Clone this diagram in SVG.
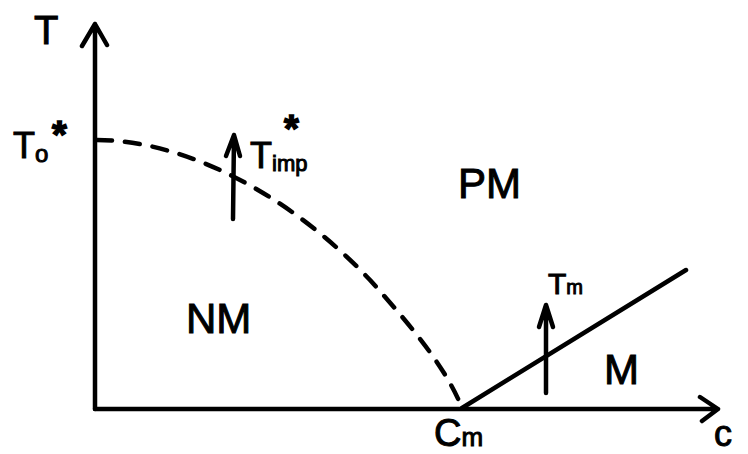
<svg xmlns="http://www.w3.org/2000/svg" width="748" height="454" viewBox="0 0 748 454">
<style>
.ln{fill:none;stroke:#000;stroke-width:4.5;stroke-linecap:round;stroke-linejoin:round}
.t{font-family:"Liberation Sans",Arial,sans-serif;fill:#000;stroke:#000;stroke-width:1}
.st{font-family:"Liberation Sans",Arial,sans-serif;fill:#000;stroke:#000;stroke-width:1.5;font-weight:bold}
</style>
<rect width="748" height="454" fill="#fff"/>
<g id="connectors">
<path class="ln" d="M95,409 L95,24 M82,46 L95,24 L107,45"/>
<path class="ln" d="M95,409 L718,409 M700,397 L718,409 L702,421"/>
<path class="ln" d="M97,140 C185,140 290,195 370,280 C415,330 447,370 462,408" stroke-dasharray="15,13" stroke-width="5"/>
<path class="ln" d="M462,408 L686,270"/>
<path class="ln" d="M233,219 L234,135 M226,156 L234,135 L240,156"/>
<path class="ln" d="M546,393 L546,305 M539,327 L546,305 L553,327"/>
</g>
<g id="labels">
<text class="t" x="34" y="44" font-size="40">T</text>
<text class="t" x="13" y="158" font-size="36">T<tspan font-size="24" dy="4">o</tspan></text>
<text class="st" x="52" y="148" font-size="38">*</text>
<text class="t" x="250" y="168" font-size="36">T<tspan font-size="22" dy="3">imp</tspan></text>
<text class="st" x="284" y="142" font-size="38">*</text>
<text class="t" x="458" y="198" font-size="42">PM</text>
<text class="t" x="186" y="333" font-size="42">NM</text>
<text class="t" x="548" y="294" font-size="30">T<tspan font-size="20">m</tspan></text>
<text class="t" x="604" y="384" font-size="42">M</text>
<text class="t" x="434" y="446" font-size="38">C<tspan font-size="26">m</tspan></text>
<text class="t" x="714" y="446" font-size="36">c</text>
</g>
</svg>
